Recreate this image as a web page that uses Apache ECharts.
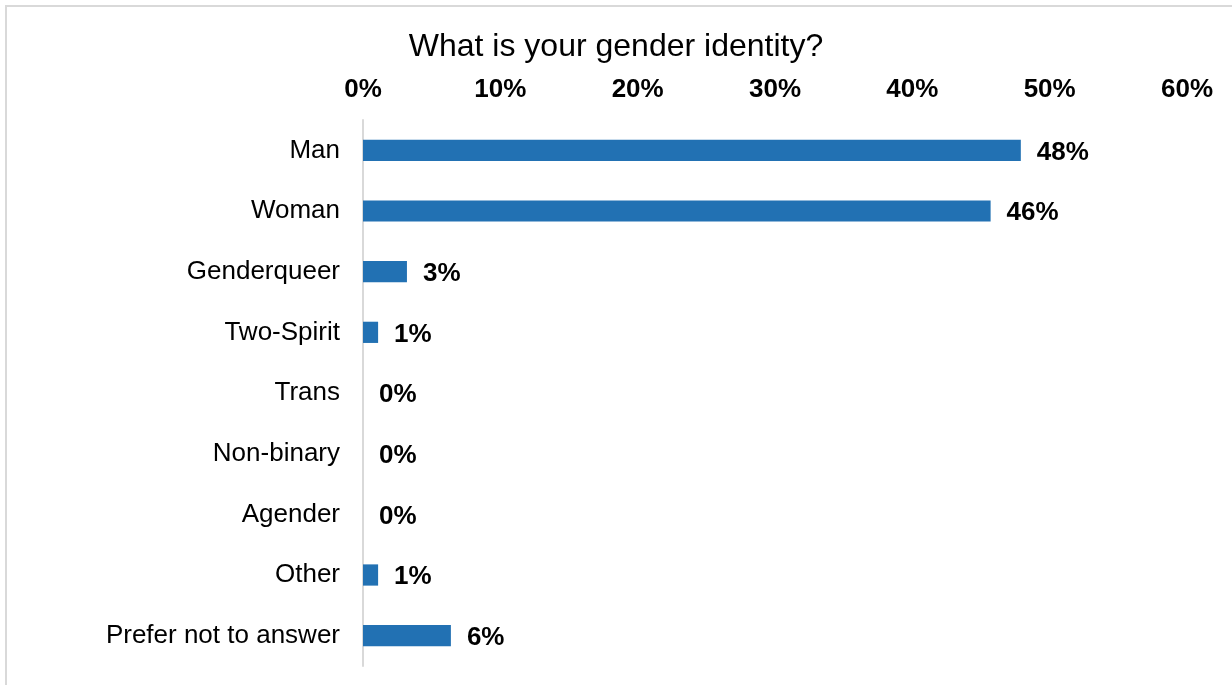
<!DOCTYPE html>
<html>
<head>
<meta charset="utf-8">
<script src="https://cdn.jsdelivr.net/npm/echarts@6/dist/echarts.min.js"></script>
<style>
  html, body { margin: 0; padding: 0; background: #fff; }
  #frame { position: absolute; left: 5px; top: 5px; width: 1240px; height: 700px;
           border-left: 2px solid #d9d9d9; border-top: 2px solid #d9d9d9; box-sizing: border-box; }
  #chart { position: absolute; left: 0; top: 0; width: 1232px; height: 685px; }
</style>
</head>
<body>
<div id="frame"></div>
<div id="chart"></div>
<script>
const categories = ['Man', 'Woman', 'Genderqueer', 'Two-Spirit', 'Trans', 'Non-binary', 'Agender', 'Other', 'Prefer not to answer'];
const shares = [47.9, 45.7, 3.2, 1.1, 0, 0, 0, 1.1, 6.4];
const tickValues = [0, 10, 20, 30, 40, 50, 60];

const FONT = 'Liberation Sans, Arial, sans-serif';

const chart = echarts.init(document.getElementById('chart'), null, { renderer: 'canvas' });
chart.setOption({
  animation: false,
  title: {
    text: 'What is your gender identity?',
    left: 'center',
    top: 26,
    textStyle: { fontFamily: FONT, fontSize: 32, fontWeight: 'normal', color: '#000' }
  },
  grid: { left: 363, right: 45, top: 120, bottom: 19, containLabel: false },
  xAxis: {
    type: 'value',
    position: 'top',
    min: tickValues[0],
    max: tickValues[tickValues.length - 1],
    interval: 10,
    axisLine: { show: false },
    axisTick: { show: false },
    splitLine: { show: false },
    axisLabel: {
      margin: 17,
      formatter: v => v + '%',
      fontFamily: FONT,
      fontSize: 26,
      fontWeight: 'bold',
      color: '#000'
    }
  },
  yAxis: {
    type: 'category',
    data: categories,
    inverse: true,
    axisLine: { show: true, lineStyle: { color: '#d9d9d9', width: 2 } },
    axisTick: { show: false },
    axisLabel: {
      margin: 23,
      padding: [3, 0, 0, 0],
      fontFamily: FONT,
      fontSize: 26,
      color: '#000'
    }
  },
  series: [{
    type: 'bar',
    data: shares,
    barWidth: '35%',
    itemStyle: { color: '#2271B3' },
    label: {
      show: true,
      position: 'right',
      distance: 16,
      offset: [0, 2],
      formatter: p => Math.round(p.value) + '%',
      fontFamily: FONT,
      fontSize: 26,
      fontWeight: 'bold',
      color: '#000'
    }
  }]
});
</script>
</body>
</html>
